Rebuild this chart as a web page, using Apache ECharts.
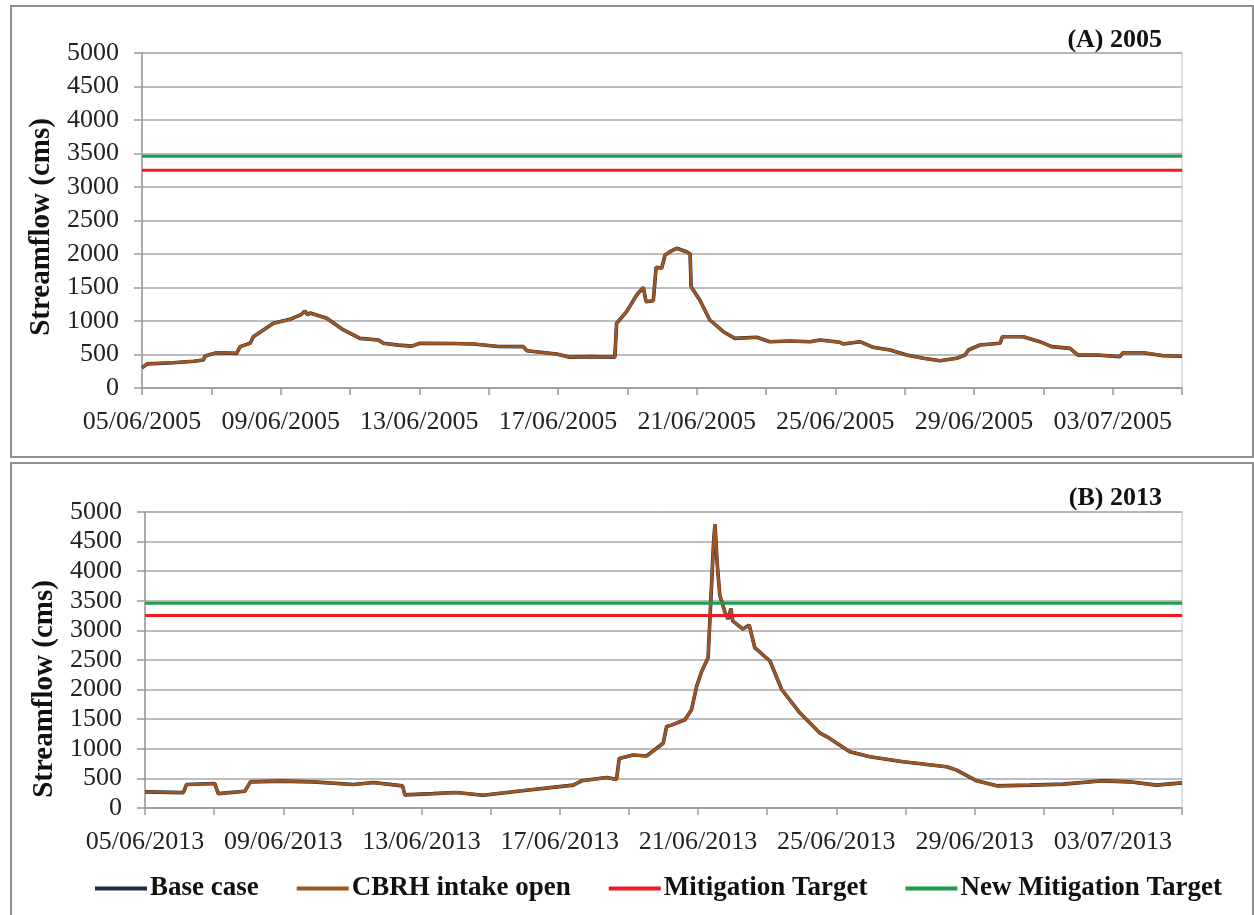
<!DOCTYPE html>
<html>
<head>
<meta charset="utf-8">
<script src="https://cdn.jsdelivr.net/npm/echarts@6/dist/echarts.min.js"></script>
<style>
  body { margin: 0; background: #fff; }
  .panel {
    position: absolute;
    left: 10px;
    width: 1240px;
    border: 2px solid #8f8f8f;
    background: #fff;
  }
  #chartA { top: 5px; height: 449px; }
  #chartB { top: 462px; height: 452px; }
</style>
</head>
<body>
<div id="chartA" class="panel"></div>
<div id="chartB" class="panel"></div>
<script>
// day offsets from 05/06 (0..30) and streamflow (cms)
var days2005 = [0, 0.15, 0.9, 1.5, 1.77, 1.82, 2.15, 2.73, 2.83, 3.12, 3.21, 3.79, 4.27, 4.6, 4.7, 4.78, 4.85,
  5.33, 5.81, 6.29, 6.82, 6.96, 7.4, 7.78, 8.02, 9.0, 9.56, 10.28, 11.0, 11.1, 11.96, 12.34, 12.92, 13.64,
  13.69, 13.98, 14.27, 14.46, 14.54, 14.75, 14.83, 14.99, 15.09, 15.23, 15.42, 15.71, 15.81, 15.84, 16.09,
  16.38, 16.77, 17.1, 17.73, 18.11, 18.69, 19.27, 19.56, 20.13, 20.23, 20.71, 21.09, 21.58, 22.06, 22.54,
  23.02, 23.5, 23.74, 23.84, 24.17, 24.75, 24.82, 25.42, 25.9, 26.24, 26.77, 27.0, 27.54, 28.21, 28.3,
  28.88, 29.46, 30];
var flow2005 = [300, 360, 378, 400, 418, 478, 527, 517, 617, 667, 766, 966, 1025, 1100, 1150, 1090, 1120,
  1040, 866, 741, 716, 667, 640, 625, 667, 665, 657, 620, 617, 557, 507, 460, 468, 460,
  966, 1139, 1388, 1503, 1288, 1303, 1801, 1786, 1985, 2034, 2085, 2034, 2000, 1512, 1313,
  1015, 840, 741, 757, 691, 701, 691, 716, 682, 657, 691, 607, 567, 493, 443,
  408, 443, 493, 567, 642, 667, 766, 766, 691, 617, 592, 490, 493, 468, 527,
  527, 482, 475];

var days2013 = [0, 1.11, 1.2, 2.02, 2.12, 2.89, 3.05, 3.91, 4.87, 6.02, 6.6, 7.45, 7.52, 8.33, 9.0, 9.78,
  11.04, 12.39, 12.63, 13.36, 13.64, 13.72, 14.12, 14.51, 14.99, 15.09, 15.23, 15.62, 15.81, 15.96, 16.1,
  16.29, 16.36, 16.45, 16.49, 16.55, 16.63, 16.78, 16.87, 16.95, 17.0, 17.3, 17.48, 17.64, 18.08, 18.42,
  18.95, 19.53, 19.72, 20.39, 20.97, 21.93, 23.19, 23.48, 24.06, 24.64, 25.6, 26.56, 27.72, 28.49, 29.26, 30];
var flow2013 = [272, 260, 396, 413, 243, 284, 442, 454, 442, 396, 430, 374, 221, 243, 262, 216,
  301, 386, 459, 515, 481, 838, 895, 878, 1093, 1377, 1400, 1491, 1661, 2058, 2300,
  2539, 3400, 4500, 4790, 4155, 3588, 3304, 3191, 3370, 3160, 3022, 3090, 2710, 2483, 2002,
  1604, 1264, 1207, 952, 867, 782, 697, 640, 459, 374, 386, 403, 459, 442, 386, 425];

// base case overlaps the CBRH run almost everywhere
var base2005 = flow2005;
var base2013 = flow2013;

var mitigationTarget = 3250;
var newMitigationTarget = 3460;

var labels2005 = ['05/06/2005', '09/06/2005', '13/06/2005', '17/06/2005', '21/06/2005', '25/06/2005', '29/06/2005', '03/07/2005'];
var labels2013 = ['05/06/2013', '09/06/2013', '13/06/2013', '17/06/2013', '21/06/2013', '25/06/2013', '29/06/2013', '03/07/2013'];

var FONT = 'Liberation Serif, Times New Roman, serif';

function pairs(xs, ys) {
  return xs.map(function (x, i) { return [x, ys[i]]; });
}

function buildOption(cfg) {
  return {
    animation: false,
    title: {
      text: cfg.title,
      right: 85,
      top: cfg.titleTop,
      textStyle: { fontFamily: FONT, fontSize: 26, fontWeight: 'bold', color: '#111' }
    },
    legend: {
      show: cfg.legend,
      bottom: 9,
      left: 78,
      itemWidth: 52,
      itemHeight: 4,
      itemGap: 38,
      icon: 'rect',
      textStyle: { fontFamily: FONT, fontSize: 27, fontWeight: 'bold', color: '#111', padding: [0, 0, 0, -2] },
      data: ['Base case', 'CBRH intake open', 'Mitigation Target', 'New Mitigation Target']
    },
    grid: {
      left: cfg.grid[0], top: cfg.grid[1], right: cfg.grid[2], bottom: cfg.grid[3],
      show: true, borderColor: '#c4c4c4', borderWidth: 1
    },
    xAxis: {
      type: 'value',
      min: 0, max: 30, interval: 2,
      axisLine: { lineStyle: { color: '#9a9a9a', width: 1.5 } },
      axisTick: { show: true, length: 7, lineStyle: { color: '#9a9a9a', width: 1.5 } },
      splitLine: { show: false },
      axisLabel: {
        margin: 21,
        fontFamily: FONT, fontSize: 26, color: '#222',
        formatter: function (v) { return v % 4 === 0 ? cfg.labels[v / 4] : ''; }
      }
    },
    yAxis: {
      type: 'value',
      min: 0, max: 5000, interval: 500,
      name: 'Streamflow (cms)',
      nameLocation: 'middle',
      nameGap: cfg.nameGap,
      nameTextStyle: { fontFamily: FONT, fontSize: 29, fontWeight: 'bold', color: '#111', padding: cfg.namePad },
      axisLine: { show: true, lineStyle: { color: '#9a9a9a', width: 1.5 } },
      axisTick: { show: true, length: 8, lineStyle: { color: '#9a9a9a', width: 1.5 } },
      splitLine: { lineStyle: { color: '#a8a8a8', width: 1.5 } },
      axisLabel: {
        margin: 23, fontFamily: FONT, fontSize: 26, color: '#222',
        formatter: function (v) { return String(v); }
      }
    },
    series: [
      {
        name: 'Base case', type: 'line', showSymbol: false,
        color: '#1f2a44',
        lineStyle: { width: 3.6, color: '#1f2a44' },
        data: pairs(cfg.days, cfg.base)
      },
      {
        name: 'CBRH intake open', type: 'line', showSymbol: false,
        color: '#a0561e',
        lineStyle: { width: 2.8, color: '#a0561e' },
        data: pairs(cfg.days, cfg.flow)
      },
      {
        name: 'Mitigation Target', type: 'line', showSymbol: false,
        color: '#ee1c25',
        lineStyle: { width: 3, color: '#ee1c25' },
        data: [[0, mitigationTarget], [30, mitigationTarget]]
      },
      {
        name: 'New Mitigation Target', type: 'line', showSymbol: false,
        color: '#1e9e4a',
        lineStyle: { width: 3, color: '#1e9e4a' },
        data: [[0, newMitigationTarget], [30, newMitigationTarget]]
      }
    ]
  };
}

var chartA = echarts.init(document.getElementById('chartA'));
chartA.setOption(buildOption({
  title: '(A) 2005', titleTop: 15, legend: false,
  grid: [130, 46, 70, 68],
  nameGap: 77, namePad: [0, 13, 0, 0],
  labels: labels2005, days: days2005, flow: flow2005, base: base2005
}));

var chartB = echarts.init(document.getElementById('chartB'));
chartB.setOption(buildOption({
  title: '(B) 2013', titleTop: 16, legend: true,
  grid: [133, 48, 70, 108],
  nameGap: 80, namePad: [0, 58, 0, 0],
  labels: labels2013, days: days2013, flow: flow2013, base: base2013
}));
</script>
</body>
</html>
